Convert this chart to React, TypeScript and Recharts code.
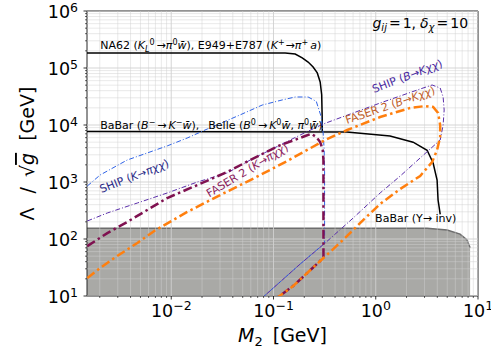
import {
  Area,
  ComposedChart,
  Line,
  ReferenceArea,
  ReferenceDot,
  XAxis,
  YAxis,
} from "recharts";

type Pair = [number, number];

const FONT = "'DejaVu Sans', sans-serif";
const W = 491;
const H = 356;
const MARGIN = { top: 11, right: 13, bottom: 0, left: 0 };

// axis ticks (log scales)
const xMajor = [0.01, 0.1, 1, 10];
const xMinor = [
  0.002, 0.003, 0.004, 0.005, 0.006, 0.007, 0.008, 0.009,
  0.02, 0.03, 0.04, 0.05, 0.06, 0.07, 0.08, 0.09,
  0.2, 0.3, 0.4, 0.5, 0.6, 0.7, 0.8, 0.9,
  2, 3, 4, 5, 6, 7, 8, 9,
];
const yMajor = [10, 100, 1000, 10000, 100000, 1000000];
const yMinor = [
  20, 30, 40, 50, 60, 70, 80, 90,
  200, 300, 400, 500, 600, 700, 800, 900,
  2000, 3000, 4000, 5000, 6000, 7000, 8000, 9000,
  20000, 30000, 40000, 50000, 60000, 70000, 80000, 90000,
  200000, 300000, 400000, 500000, 600000, 700000, 800000, 900000,
];
const xDomain: Pair = [0.0015, 10];
const yDomain: Pair = [10, 1000000];

// M2 [GeV], Lambda/sqrt(g) [GeV]
const na62: Pair[] = [
  [0.0015, 183000], [0.13, 183000], [0.163, 176000], [0.191, 150000],
  [0.218, 127000], [0.244, 104000], [0.268, 82000], [0.286, 57000],
  [0.296, 34000], [0.299, 15000], [0.3, 7700],
];
const babarBelle: Pair[] = [
  [0.0015, 7700], [0.52, 7550], [1.38, 6400], [2.32, 5000], [3.18, 3600],
  [3.64, 2150], [3.98, 1085], [4.07, 483], [4.27, 270],
];
const babarUpsilon: Pair[] = [
  [0.0015, 155], [3.18, 155], [4.99, 144], [6.68, 122], [7.82, 96], [8.37, 70],
];
const shipK: Pair[] = [
  [0.00151, 850], [0.00202, 1330], [0.00371, 2430], [0.00914, 4300],
  [0.0143, 5900], [0.0225, 8500], [0.047, 15000], [0.0776, 22400],
  [0.1216, 27500], [0.163, 31000], [0.218, 31000], [0.262, 26000],
  [0.2925, 14000], [0.306, 7240], [0.313, 3640], [0.316, 1500],
  [0.316, 84], [0.1824, 36.4], [0.0793, 9.6],
];
const shipB: Pair[] = [
  [0.00151, 207], [0.00237, 286], [0.00466, 428], [0.00914, 642],
  [0.018, 1000], [0.0353, 1440], [0.0592, 2430], [0.1111, 4280],
  [0.1824, 6680], [0.306, 10400], [1.104, 24300], [2.718, 42800],
  [3.559, 50300], [4.265, 44600], [4.56, 31000], [4.667, 18300],
  [4.56, 10000], [4.265, 5450], [2.718, 2640], [1.733, 1270],
  [1.104, 642], [0.601, 233], [0.32, 85], [0.1824, 36.4], [0.0793, 9.6],
];
const faserK: Pair[] = [
  [0.00151, 75], [0.00237, 127], [0.00371, 199], [0.00582, 323],
  [0.00914, 524], [0.018, 885], [0.0353, 1500], [0.0592, 2430],
  [0.1111, 4280], [0.204, 6410], [0.234, 7000], [0.262, 6150],
  [0.286, 5030], [0.303, 3640], [0.308, 2430], [0.308, 50],
  [0.286, 41.1], [0.2135, 25.3], [0.1558, 15], [0.1111, 9.6],
];
const faserB: Pair[] = [
  [0.00151, 20.7], [0.00202, 31], [0.00296, 50.3], [0.00466, 85],
  [0.00682, 138], [0.01433, 298], [0.0301, 591], [0.0648, 1170],
  [0.1361, 2335], [0.32, 5450], [0.525, 8170], [1.104, 13800],
  [2.168, 19900], [3.04, 21500], [3.641, 20700], [4.074, 16200],
  [4.265, 10000], [4.265, 6150], [3.981, 3640], [3.559, 2240],
  [2.718, 1275], [1.733, 753], [1.104, 411], [0.753, 215],
  [0.525, 113], [0.358, 59.2], [0.286, 41.1], [0.2135, 25.3],
  [0.1558, 15], [0.1111, 9.6],
];

const curve = (data: Pair[]) => data.map(([x, y]) => ({ x, y }));

const expText = (v: number) => {
  const e = Math.round(Math.log10(v));
  return e < 0 ? `\u2212${-e}` : `${e}`;
};

function XTick(props: any) {
  const { x, y, payload } = props;
  const major = xMajor.includes(payload.value);
  return (
    <g>
      <line x1={x} x2={x} y1={y} y2={y + (major ? 3.5 : 2)} stroke="#000" strokeWidth={major ? 0.8 : 0.6} />
      {major && (
        <text x={x} y={y + 21} textAnchor="middle" fontSize={17.5} fontFamily={FONT} fill="#000">
          10<tspan dy={-7.5} fontSize={12.5}>{expText(payload.value)}</tspan>
        </text>
      )}
    </g>
  );
}

function YTick(props: any) {
  const { x, y, payload } = props;
  const major = yMajor.includes(payload.value);
  return (
    <g>
      <line x1={x - (major ? 3.5 : 2)} x2={x} y1={y} y2={y} stroke="#000" strokeWidth={major ? 0.8 : 0.6} />
      {major && (
        <text x={x - 9} y={y + 7} textAnchor="end" fontSize={17.5} fontFamily={FONT} fill="#000">
          10<tspan dy={-6.5} fontSize={12.5}>{expText(payload.value)}</tspan>
        </text>
      )}
    </g>
  );
}

// text placed at a data point
const note =
  (body: any, opts: { angle?: number; anchor?: string; fill?: string; size?: number; center?: boolean }) =>
  (p: any) => {
    const { angle = 0, anchor = "start", fill = "#000", size = 11, center = false } = opts;
    return (
      <text
        x={p.cx}
        y={p.cy}
        dy={center ? size * 0.36 : 0}
        textAnchor={anchor}
        fill={fill}
        fontSize={size}
        fontFamily={FONT}
        transform={angle ? `rotate(${angle} ${p.cx} ${p.cy})` : undefined}
      >
        {body}
      </text>
    );
  };

const it = { fontStyle: "italic" as const };

const gridLine = (key: string, data: Pair[], major: boolean) => (
  <Line
    key={key}
    data={curve(data)}
    dataKey="y"
    type="linear"
    stroke="#d0d0d0"
    strokeOpacity={major ? 0.9 : 0.6}
    strokeWidth={major ? 1 : 0.8}
    dot={false}
    activeDot={false}
    isAnimationActive={false}
  />
);

const layer = { position: "absolute" as const, left: 0, top: 0 };

export default function App() {
  return (
    <div style={{ ...layer, width: W, height: H, background: "#fff" }}>
      {/* bottom layer: grey BaBar (Upsilon -> inv) band, kept under the grid */}
      <div style={{ ...layer, zIndex: 0 }}>
        <ComposedChart width={W} height={H} margin={MARGIN}>
          <XAxis type="number" dataKey="x" scale="log" domain={xDomain} allowDataOverflow height={60} tick={false} tickLine={false} axisLine={false} />
          <YAxis type="number" dataKey="y" scale="log" domain={yDomain} allowDataOverflow width={87} tick={false} tickLine={false} axisLine={false} />
          <Area
            data={curve(babarUpsilon)}
            dataKey="y"
            type="linear"
            baseValue={10}
            fill="#a9a9a6"
            fillOpacity={1}
            stroke="#6e6e6e"
            strokeWidth={1.5}
            activeDot={false}
            isAnimationActive={false}
          />
        </ComposedChart>
      </div>

      <div style={{ ...layer, zIndex: 1 }}>
        <ComposedChart width={W} height={H} margin={MARGIN} style={{ fontFamily: FONT, background: "transparent" }}>
          <XAxis
            type="number"
            dataKey="x"
            scale="log"
            domain={xDomain}
            allowDataOverflow
            ticks={[...xMinor, ...xMajor].sort((a, b) => a - b)}
            interval={0}
            tick={(p: any) => <XTick {...p} />}
            tickLine={false}
            axisLine={false}
            tickSize={0}
            tickMargin={0}
            height={60}
            label={{
              content: (p: any) => {
                const vb = p.viewBox;
                return (
                  <text x={vb.x + vb.width / 2} y={vb.y + 46} textAnchor="middle" fontSize={19} fontFamily={FONT} fill="#000">
                    <tspan style={it}>M</tspan>
                    <tspan fontSize={13} dy={4}>2</tspan>
                    <tspan dy={-4} dx={10}>[GeV]</tspan>
                  </text>
                );
              },
            }}
          />
          <YAxis
            type="number"
            dataKey="y"
            scale="log"
            domain={yDomain}
            allowDataOverflow
            ticks={[...yMinor, ...yMajor].sort((a, b) => a - b)}
            interval={0}
            tick={(p: any) => <YTick {...p} />}
            tickLine={false}
            axisLine={false}
            tickSize={0}
            tickMargin={0}
            width={87}
            label={{
              content: (p: any) => {
                const vb = p.viewBox;
                const cx = 27;
                const cy = vb.y + vb.height / 2;
                return (
                  <text
                    x={cx}
                    y={cy}
                    dy={7}
                    textAnchor="middle"
                    fontSize={19}
                    fontFamily={FONT}
                    fill="#000"
                    transform={`rotate(-90 ${cx} ${cy})`}
                  >
                    <tspan>Λ</tspan>
                    <tspan dx={14}>/</tspan>
                    <tspan dx={10}>√</tspan>
                    <tspan style={{ fontStyle: "italic", textDecoration: "overline" }}>g</tspan>
                    <tspan dx={12}>[GeV]</tspan>
                  </text>
                );
              },
            }}
          />

          {xMinor.map((v) => gridLine(`xm${v}`, [[v, yDomain[0]], [v, yDomain[1]]], false))}
          {yMinor.map((v) => gridLine(`ym${v}`, [[xDomain[0], v], [xDomain[1], v]], false))}
          {xMajor.map((v) => gridLine(`xM${v}`, [[v, yDomain[0]], [v, yDomain[1]]], true))}
          {yMajor.map((v) => gridLine(`yM${v}`, [[xDomain[0], v], [xDomain[1], v]], true))}

          <Line data={curve(na62)} dataKey="y" type="linear" stroke="#000" strokeWidth={1.5} dot={false} activeDot={false} isAnimationActive={false} />
          <Line data={curve(babarBelle)} dataKey="y" type="linear" stroke="#000" strokeWidth={1.5} dot={false} activeDot={false} isAnimationActive={false} />
          <Line data={curve(shipK)} dataKey="y" type="linear" stroke="#2f63e6" strokeWidth={1} strokeDasharray="5 2 1 2" dot={false} activeDot={false} isAnimationActive={false} />
          <Line data={curve(shipB)} dataKey="y" type="linear" stroke="#5a2eaa" strokeWidth={1} strokeDasharray="5 2 1 2" dot={false} activeDot={false} isAnimationActive={false} />
          <Line data={curve(faserK)} dataKey="y" type="linear" stroke="#7f1150" strokeWidth={2.5} strokeDasharray="9 3.5 2.5 3.5" dot={false} activeDot={false} isAnimationActive={false} />
          <Line data={curve(faserB)} dataKey="y" type="linear" stroke="#ff7f0e" strokeWidth={2.5} strokeDasharray="9 3.5 2.5 3.5" dot={false} activeDot={false} isAnimationActive={false} />

          <ReferenceArea x1={xDomain[0]} x2={xDomain[1]} y1={yDomain[0]} y2={yDomain[1]} fill="none" stroke="#262626" strokeWidth={1} />

          <ReferenceDot
            x={0.00202}
            y={215000}
            shape={note(
              <>
                <tspan>NA62 (</tspan>
                <tspan style={it}>K</tspan>
                <tspan fontSize={8} style={it} dy={3}>L</tspan>
                <tspan fontSize={8} dy={-7}>0</tspan>
                <tspan dy={4} dx={2}>→</tspan>
                <tspan style={it}>π</tspan>
                <tspan fontSize={8} dy={-4}>0</tspan>
                <tspan style={it} dy={4}>w̄</tspan>
                <tspan>), E949+E787 (</tspan>
                <tspan style={it}>K</tspan>
                <tspan fontSize={8} dy={-4}>+</tspan>
                <tspan dy={4} dx={1}>→</tspan>
                <tspan style={it}>π</tspan>
                <tspan fontSize={8} dy={-4}>+</tspan>
                <tspan dy={4} dx={2} style={it}>a</tspan>
                <tspan>)</tspan>
              </>,
              {},
            )}
          />
          <ReferenceDot
            x={0.00202}
            y={8600}
            shape={note(
              <>
                <tspan>BaBar (</tspan>
                <tspan style={it}>B</tspan>
                <tspan fontSize={8} dy={-4}>−</tspan>
                <tspan dy={4} dx={2}>→</tspan>
                <tspan style={it} dx={2}>K</tspan>
                <tspan fontSize={8} dy={-4}>−</tspan>
                <tspan style={it} dy={4}>w̄</tspan>
                <tspan>),</tspan>
                <tspan dx={9}>Belle (</tspan>
                <tspan style={it}>B</tspan>
                <tspan fontSize={8} dy={-4}>0</tspan>
                <tspan dy={4} dx={2}>→</tspan>
                <tspan style={it} dx={2}>K</tspan>
                <tspan fontSize={8} dy={-4}>0</tspan>
                <tspan style={it} dy={4}>w̄</tspan>
                <tspan>, </tspan>
                <tspan style={it}>π</tspan>
                <tspan fontSize={8} dy={-4}>0</tspan>
                <tspan style={it} dy={4}>w̄</tspan>
                <tspan>)</tspan>
              </>,
              {},
            )}
          />
          <ReferenceDot
            x={0.00434}
            y={1275}
            shape={note(
              <>
                <tspan>SHIP (</tspan>
                <tspan style={it}>K</tspan>
                <tspan>→</tspan>
                <tspan style={it}>πχχ</tspan>
                <tspan>)</tspan>
              </>,
              { angle: -21.5, anchor: "middle", fill: "#2a2a88", center: true },
            )}
          />
          <ReferenceDot
            x={0.0553}
            y={1620}
            shape={note(
              <>
                <tspan>FASER 2 (</tspan>
                <tspan style={it}>K</tspan>
                <tspan>→</tspan>
                <tspan style={it}>πχχ</tspan>
                <tspan>)</tspan>
              </>,
              { angle: -31, anchor: "middle", fill: "#8c1d5e", center: true },
            )}
          />
          <ReferenceDot
            x={2.03}
            y={72400}
            shape={note(
              <>
                <tspan>SHIP (</tspan>
                <tspan style={it}>B</tspan>
                <tspan>→</tspan>
                <tspan style={it}>Kχχ</tspan>
                <tspan>)</tspan>
              </>,
              { angle: -21, anchor: "middle", fill: "#4a2aa0", center: true },
            )}
          />
          <ReferenceDot
            x={1.383}
            y={22400}
            shape={note(
              <>
                <tspan>FASER 2 (</tspan>
                <tspan style={it}>B</tspan>
                <tspan>→</tspan>
                <tspan style={it}>Kχχ</tspan>
                <tspan>)</tspan>
              </>,
              { angle: -19, anchor: "middle", fill: "#c0602a", center: true },
            )}
          />
          <ReferenceDot
            x={0.986}
            y={199}
            shape={note(<tspan>BaBar (Υ→ inv)</tspan>, {})}
          />
          <ReferenceDot
            x={8.0}
            y={503000}
            shape={note(
              <>
                <tspan style={it}>g</tspan>
                <tspan style={it} fontSize={10} dy={3}>ij</tspan>
                <tspan dy={-3} dx={2}>=</tspan>
                <tspan dx={2}>1,</tspan>
                <tspan dx={4} style={it}>δ</tspan>
                <tspan style={it} fontSize={10} dy={3}>χ</tspan>
                <tspan dy={-3} dx={2}>=</tspan>
                <tspan dx={2}>10</tspan>
              </>,
              { anchor: "end", size: 14 },
            )}
          />
        </ComposedChart>
      </div>
    </div>
  );
}
